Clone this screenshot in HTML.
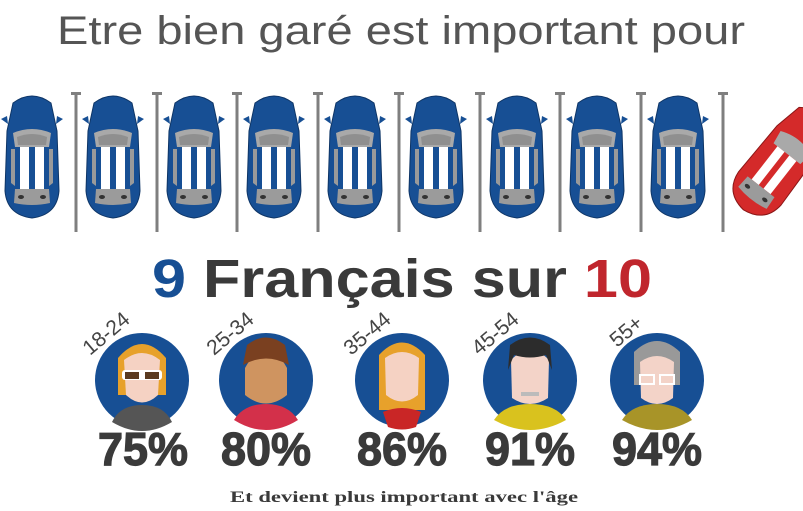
<!DOCTYPE html>
<html><head><meta charset="utf-8"><style>
html,body{margin:0;padding:0;background:#fff;width:803px;height:511px;overflow:hidden}
svg{display:block}
</style></head><body>
<svg width="803" height="511" viewBox="0 0 803 511" xmlns="http://www.w3.org/2000/svg">
<defs>
<g id="car">
  <path d="M8 12 Q27 -2 46 12 L52 40 L54 100 Q52 124 27 127 Q2 124 0 100 L2 40 Z" fill="#174f94" stroke="#0e3566" stroke-width="1"/>
  <path d="M2 25 L-4 28 L3 33 Z M52 25 L58 28 L51 33 Z" fill="#174f94"/>
  <path d="M8 42 Q27 34 46 42 L44 56 L10 56 Z" fill="#a9a9a9"/>
  <path d="M12 46 Q27 40 42 46 L41 54 L13 54 Z" fill="#8f8f8f"/>
  <rect x="15" y="56" width="9" height="42" fill="#fff"/>
  <rect x="30" y="56" width="9" height="42" fill="#fff"/>
  <path d="M6 58 L10 58 L10 95 L6 92 Z M44 58 L48 58 L48 92 L44 95 Z" fill="#9a9a9a"/>
  <path d="M10 98 L44 98 L45 112 Q27 116 9 112 Z" fill="#9b9b9b"/>
  <ellipse cx="16" cy="106" rx="3" ry="2" fill="#333"/>
  <ellipse cx="38" cy="106" rx="3" ry="2" fill="#333"/>
</g>
<g id="pole">
  <rect x="-1.5" y="0" width="3" height="140" fill="#7f7f7f"/>
  <rect x="-5" y="0" width="10" height="3" fill="#7f7f7f"/>
</g>
</defs>

<text x="401" y="44" text-anchor="middle" font-family="Liberation Sans, sans-serif" font-size="40" fill="#555" textLength="688" lengthAdjust="spacingAndGlyphs">Etre bien garé est important pour</text>

<use href="#car" x="5" y="91"/>
<use href="#car" x="86" y="91"/>
<use href="#car" x="167" y="91"/>
<use href="#car" x="247" y="91"/>
<use href="#car" x="328" y="91"/>
<use href="#car" x="409" y="91"/>
<use href="#car" x="490" y="91"/>
<use href="#car" x="570" y="91"/>
<use href="#car" x="651" y="91"/>
<use href="#pole" x="76" y="92"/>
<use href="#pole" x="157" y="92"/>
<use href="#pole" x="237" y="92"/>
<use href="#pole" x="318" y="92"/>
<use href="#pole" x="399" y="92"/>
<use href="#pole" x="480" y="92"/>
<use href="#pole" x="560" y="92"/>
<use href="#pole" x="641" y="92"/>
<use href="#pole" x="723" y="92"/>

<g transform="translate(782,160) rotate(38) translate(-27,-64)">
  <path d="M8 12 Q27 -2 46 12 L52 40 L54 100 Q52 124 27 127 Q2 124 0 100 L2 40 Z" fill="#d42a2a" stroke="#8a1616" stroke-width="1"/>
  <path d="M8 42 Q27 34 46 42 L44 56 L10 56 Z" fill="#a9a9a9"/>
  <rect x="15" y="56" width="9" height="42" fill="#fff"/>
  <rect x="30" y="56" width="9" height="42" fill="#fff"/>
  <path d="M10 98 L44 98 L45 112 Q27 116 9 112 Z" fill="#9b9b9b"/>
  <ellipse cx="16" cy="106" rx="3" ry="2" fill="#333"/>
  <ellipse cx="38" cy="106" rx="3" ry="2" fill="#333"/>
</g>

<text x="402" y="297" text-anchor="middle" font-family="Liberation Sans, sans-serif" font-size="54" font-weight="bold" fill="#3a3a3a" textLength="500" lengthAdjust="spacingAndGlyphs"><tspan fill="#174f94">9</tspan> Français sur <tspan fill="#c0262d">10</tspan></text>

<g font-family="Liberation Sans, sans-serif" font-size="21" fill="#444">
 <circle cx="142" cy="380" r="47" fill="#174f94"/>
 <path d="M118 395 L118 358 Q142 330 166 358 L166 395 Z" fill="#e7a12b"/>
 <path d="M124 360 Q142 346 160 360 L158 395 Q142 410 126 395 Z" fill="#f5d2c3"/>
 <rect x="122" y="370" width="40" height="10" rx="3" fill="#fff"/>
 <rect x="125" y="372" width="14" height="7" fill="#5a3a20"/><rect x="145" y="372" width="14" height="7" fill="#5a3a20"/>
 <path d="M112 422 Q120 405 142 405 Q164 405 172 422 Q142 440 112 422 Z" fill="#555"/>
 <text transform="translate(90,356) rotate(-40)">18-24</text>
 <circle cx="266" cy="380" r="47" fill="#174f94"/>
 <path d="M245 368 Q266 330 287 368 L287 395 Q266 412 245 395 Z" fill="#cf9460"/>
 <path d="M243 365 L247 345 Q266 330 285 345 L289 365 Q266 352 243 365 Z" fill="#7a4020"/>
 <path d="M234 420 Q244 404 266 404 Q288 404 298 420 Q266 440 234 420 Z" fill="#d3304a"/>
 <text transform="translate(214,356) rotate(-40)">25-34</text>
 <circle cx="402" cy="380" r="47" fill="#174f94"/>
 <path d="M379 410 L379 355 Q402 330 425 355 L425 410 Z" fill="#e7a12b"/>
 <path d="M385 358 Q402 346 419 358 L418 395 Q402 408 386 395 Z" fill="#f5d2c3"/>
 <path d="M388 427 L383 412 Q402 404 421 412 L416 427 Q402 432 388 427 Z" fill="#c92626"/>
 <text transform="translate(351,356) rotate(-40)">35-44</text>
 <circle cx="530" cy="380" r="47" fill="#174f94"/>
 <path d="M511 360 Q530 340 549 360 L548 398 Q530 410 512 398 Z" fill="#f3d3c8"/>
 <path d="M508 370 L510 345 Q530 330 550 345 L552 370 L546 355 Q530 360 514 355 Z" fill="#2c2c2c"/>
 <rect x="521" y="392" width="18" height="4" fill="#bbb"/>
 <path d="M494 420 Q504 404 530 404 Q556 404 566 420 Q530 440 494 420 Z" fill="#d9c21e"/>
 <text transform="translate(479,356) rotate(-40)">45-54</text>
 <circle cx="657" cy="380" r="47" fill="#174f94"/>
 <path d="M634 385 L634 352 Q657 330 680 352 L680 385 Z" fill="#999"/>
 <path d="M640 362 Q657 350 674 362 L673 398 Q657 410 641 398 Z" fill="#f3d3c8"/>
 <rect x="640" y="375" width="14" height="9" fill="none" stroke="#fff" stroke-width="2"/>
 <rect x="660" y="375" width="14" height="9" fill="none" stroke="#fff" stroke-width="2"/>
 <path d="M622 420 Q632 404 657 404 Q682 404 692 420 Q657 440 622 420 Z" fill="#a89428"/>
 <text transform="translate(617,348) rotate(-40)">55+</text>
</g>

<g font-family="Liberation Sans, sans-serif" font-size="46" font-weight="bold" fill="#3a3a3a" text-anchor="middle" stroke="#3a3a3a" stroke-width="1.2">
 <text x="143" y="465" textLength="90" lengthAdjust="spacingAndGlyphs">75%</text>
 <text x="266" y="465" textLength="90" lengthAdjust="spacingAndGlyphs">80%</text>
 <text x="402" y="465" textLength="90" lengthAdjust="spacingAndGlyphs">86%</text>
 <text x="530" y="465" textLength="90" lengthAdjust="spacingAndGlyphs">91%</text>
 <text x="657" y="465" textLength="90" lengthAdjust="spacingAndGlyphs">94%</text>
</g>

<text x="404" y="502" text-anchor="middle" font-family="Liberation Serif, serif" font-size="16" font-weight="bold" fill="#3a3a3a" textLength="348" lengthAdjust="spacingAndGlyphs">Et devient plus important avec l'âge</text>
</svg>
</body></html>
